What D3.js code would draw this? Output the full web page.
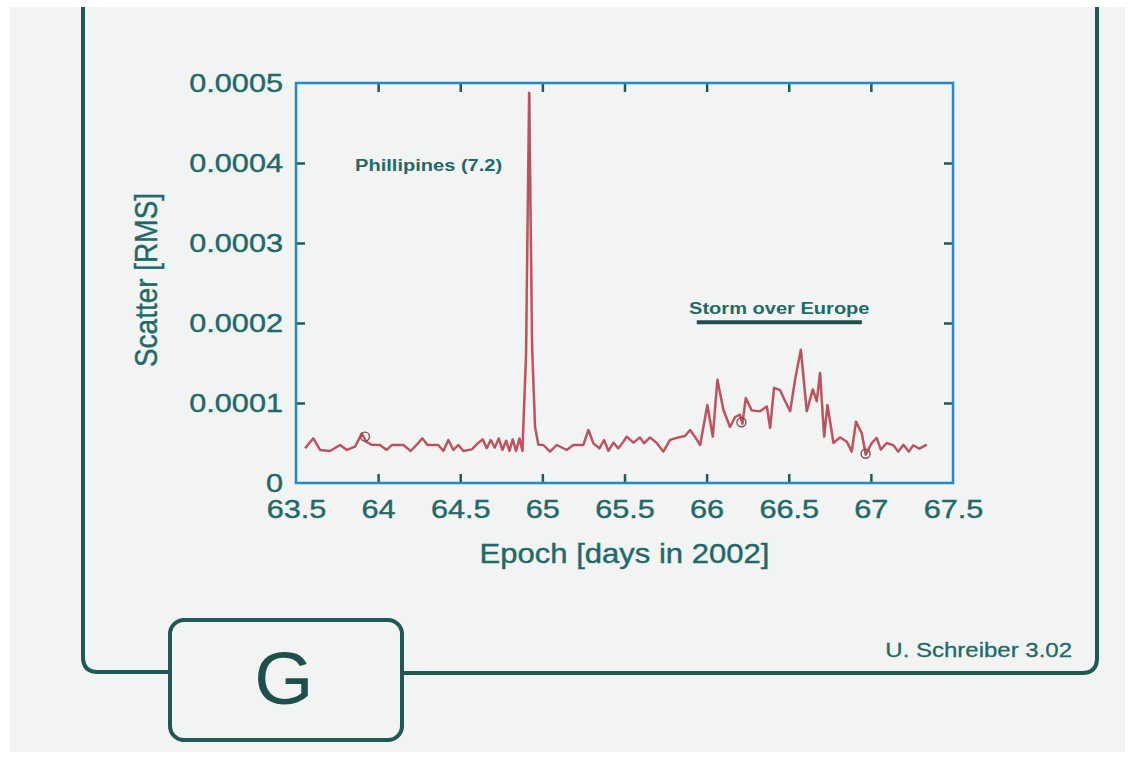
<!DOCTYPE html>
<html>
<head>
<meta charset="utf-8">
<script src="https://cdn.jsdelivr.net/npm/d3@7"></script>
<style>
  body { margin: 0; background: #ffffff; }
  text { font-family: 'Liberation Sans', Arial, sans-serif; }
</style>
</head>
<body>
<div id="chart"></div>
<script>
// epoch (days in 2002) and RMS scatter
const days = [
  63.555, 63.605, 63.646, 63.707, 63.768, 63.809, 63.859, 63.9, 63.926, 63.96,
  64.011, 64.052, 64.083, 64.153, 64.198, 64.235, 64.269, 64.3, 64.366, 64.397,
  64.427, 64.458, 64.488, 64.519, 64.57, 64.606, 64.636, 64.661, 64.685, 64.71,
  64.734, 64.756, 64.779, 64.799, 64.819, 64.839, 64.86, 64.878, 64.9, 64.919,
  64.937, 64.955, 64.975, 65.006, 65.046, 65.087, 65.148, 65.188, 65.249, 65.28,
  65.31, 65.347, 65.375, 65.402, 65.432, 65.462, 65.493, 65.513, 65.554, 65.594,
  65.619, 65.655, 65.696, 65.736, 65.777, 65.828, 65.868, 65.899, 65.931, 65.96,
  66.004, 66.037, 66.065, 66.102, 66.142, 66.173, 66.203, 66.217, 66.238, 66.274,
  66.325, 66.366, 66.386, 66.41, 66.447, 66.483, 66.508, 66.538, 66.573, 66.609,
  66.646, 66.67, 66.69, 66.715, 66.735, 66.772, 66.812, 66.853, 66.883, 66.909,
  66.944, 66.968, 67.005, 67.035, 67.06, 67.096, 67.137, 67.167, 67.198, 67.23,
  67.258, 67.295, 67.34
];

const scatter = [
  0.0000433, 0.0000558, 0.0000413, 0.0000400, 0.0000475, 0.0000413, 0.0000454, 0.0000620, 0.0000517, 0.0000479,
  0.0000475, 0.0000413, 0.0000475, 0.0000475, 0.0000400, 0.0000479, 0.0000558, 0.0000475, 0.0000475, 0.0000400,
  0.0000538, 0.0000413, 0.0000475, 0.0000400, 0.0000421, 0.0000496, 0.0000546, 0.0000433, 0.0000538, 0.0000442,
  0.0000558, 0.0000413, 0.0000529, 0.0000400, 0.0000546, 0.0000400, 0.0000558, 0.0000400, 0.0001600, 0.0004880,
  0.0001700, 0.0000700, 0.0000480, 0.0000475, 0.0000392, 0.0000475, 0.0000413, 0.0000475, 0.0000475, 0.0000663,
  0.0000496, 0.0000433, 0.0000538, 0.0000400, 0.0000504, 0.0000433, 0.0000517, 0.0000579, 0.0000504, 0.0000570,
  0.0000496, 0.0000570, 0.0000500, 0.0000392, 0.0000538, 0.0000570, 0.0000588, 0.0000663, 0.0000570, 0.0000475,
  0.0000975, 0.0000579, 0.0001290, 0.0000913, 0.0000700, 0.0000825, 0.0000854, 0.0000740, 0.0001062, 0.0000908,
  0.0000896, 0.0000958, 0.0000688, 0.0001190, 0.0001160, 0.0001000, 0.0000896, 0.0001290, 0.0001667, 0.0000896,
  0.0001170, 0.0001021, 0.0001375, 0.0000579, 0.0000975, 0.0000500, 0.0000571, 0.0000517, 0.0000392, 0.0000767,
  0.0000621, 0.0000354, 0.0000500, 0.0000563, 0.0000417, 0.0000500, 0.0000471, 0.0000392, 0.0000479, 0.0000392,
  0.0000471, 0.0000429, 0.0000479
];

// little circles drawn over a few samples
const markerDays = [63.92, 66.212, 66.968];
const markerValues = [0.000058, 0.000076, 0.0000365];

const xTicks = [63.5, 64, 64.5, 65, 65.5, 66, 66.5, 67, 67.5];
const yTicks = [0, 0.0001, 0.0002, 0.0003, 0.0004, 0.0005];

const xLabel = 'Epoch [days in 2002]';
const yLabel = 'Scatter [RMS]';
const quakeNote = { text: 'Phillipines (7.2)', day: 63.86, value: 0.00039 };
const stormNote = { text: 'Storm over Europe', from: 65.94, to: 66.945, value: 0.000201 };
const credit = 'U. Schreiber 3.02';
const panel = 'G';

const W = 1133, H = 759;
const margin = { top: 83, right: 180, bottom: 276, left: 296 };
const plotW = W - margin.left - margin.right;
const plotH = H - margin.top - margin.bottom;

const textCol = '#1f6a67';
const tickCol = '#1d5d59';
const frameCol = '#2389c8';
const boxCol = '#1f5855';
const lineCol = '#cf4f5d';
const stretch = 1.18;

// widen text horizontally around its own anchor (the scan is stretched)
function widen(sel, k) {
  sel.attr('transform', function() {
    const x = +this.getAttribute('x') || 0;
    const y = +this.getAttribute('y') || 0;
    return `translate(${x},${y}) scale(${k},1) translate(${-x},${-y})`;
  });
}

const svg = d3.select('#chart').append('svg')
  .attr('width', W)
  .attr('height', H);

svg.append('rect')
  .attr('x', 10).attr('y', 7)
  .attr('width', 1115).attr('height', 745)
  .attr('fill', '#f2f4f4');

// outer card frame with the panel tab
svg.append('path')
  .attr('d', 'M83,7 V657 Q83,672 98,672 H170 M402,673 H1082 Q1097,673 1097,658 V7')
  .attr('fill', 'none')
  .attr('stroke', boxCol)
  .attr('stroke-width', 4);

svg.append('rect')
  .attr('x', 170).attr('y', 620)
  .attr('width', 232).attr('height', 120)
  .attr('rx', 14)
  .attr('fill', '#f2f4f4')
  .attr('stroke', boxCol)
  .attr('stroke-width', 4);

svg.append('text')
  .attr('x', 284).attr('y', 704)
  .attr('text-anchor', 'middle')
  .attr('font-size', 74)
  .attr('fill', '#1e4f4d')
  .text(panel)
  .call(widen, 1.03);

svg.append('text')
  .attr('x', 1072).attr('y', 657)
  .attr('text-anchor', 'end')
  .attr('font-size', 20)
  .attr('fill', textCol)
  .attr('stroke', textCol)
  .attr('stroke-width', 0.3)
  .text(credit)
  .call(widen, 1.2);

const xScale = d3.scaleLinear()
  .domain([63.5, 67.5])
  .range([0, plotW]);

const yScale = d3.scaleLinear()
  .domain([0, 0.0005])
  .range([plotH, 0]);

const chart = svg.append('g')
  .attr('transform', `translate(${margin.left},${margin.top})`);

const inner = v => v !== xScale.domain()[0] && v !== xScale.domain()[1];
const innerY = v => v !== yScale.domain()[0] && v !== yScale.domain()[1];

// bottom axis with labels
const xAxisG = chart.append('g')
  .attr('transform', `translate(0,${plotH})`)
  .call(d3.axisBottom(xScale)
    .tickValues(xTicks)
    .tickFormat(d => String(d))
    .tickSizeInner(-9)
    .tickSizeOuter(0)
    .tickPadding(17));

xAxisG.selectAll('.tick line').filter(d => !inner(d)).remove();

// left axis with labels
const yAxisG = chart.append('g')
  .call(d3.axisLeft(yScale)
    .tickValues(yTicks)
    .tickFormat(d => d === 0 ? '0' : d.toFixed(4))
    .tickSizeInner(-9)
    .tickSizeOuter(0)
    .tickPadding(13));

yAxisG.selectAll('.tick line').filter(d => !innerY(d)).remove();

// mirrored ticks on top and right
chart.append('g')
  .call(d3.axisTop(xScale)
    .tickValues(xTicks.filter(inner))
    .tickFormat('')
    .tickSizeInner(-9)
    .tickSizeOuter(0));

chart.append('g')
  .attr('transform', `translate(${plotW},0)`)
  .call(d3.axisRight(yScale)
    .tickValues(yTicks.filter(innerY))
    .tickFormat('')
    .tickSizeInner(-9)
    .tickSizeOuter(0));

chart.selectAll('.domain').remove();
chart.selectAll('.tick line')
  .attr('stroke', tickCol)
  .attr('stroke-width', 2.5);
chart.selectAll('.tick text')
  .attr('font-family', "'Liberation Sans', Arial, sans-serif")
  .attr('font-size', 26)
  .attr('fill', textCol)
  .attr('stroke', textCol)
  .attr('stroke-width', 0.4)
  .call(widen, stretch);

chart.append('rect')
  .attr('width', plotW)
  .attr('height', plotH)
  .attr('fill', 'none')
  .attr('stroke', frameCol)
  .attr('stroke-width', 2.5);

const points = days.map((d, i) => ({ day: d, value: scatter[i] }));

const line = d3.line()
  .x(d => xScale(d.day))
  .y(d => yScale(d.value));

chart.append('path')
  .attr('d', line(points))
  .attr('fill', 'none')
  .attr('stroke', lineCol)
  .attr('stroke-width', 2.4)
  .attr('stroke-linejoin', 'round');

chart.append('path')
  .attr('d', line(points))
  .attr('transform', 'translate(1,0)')
  .attr('fill', 'none')
  .attr('stroke', '#2f6b68')
  .attr('stroke-opacity', 0.3)
  .attr('stroke-width', 1)
  .attr('stroke-linejoin', 'round');

chart.append('g')
  .selectAll('circle')
  .data(markerDays)
  .join('circle')
  .attr('cx', d => xScale(d))
  .attr('cy', (d, i) => yScale(markerValues[i]))
  .attr('r', 4.5)
  .attr('fill', 'none')
  .attr('stroke', '#8a4a50')
  .attr('stroke-width', 1.4);

// annotations
chart.append('text')
  .attr('x', xScale(quakeNote.day))
  .attr('y', yScale(quakeNote.value))
  .attr('font-size', 17)
  .attr('font-weight', 600)
  .attr('fill', textCol)
  .text(quakeNote.text)
  .call(widen, 1.18);

chart.append('text')
  .attr('x', (xScale(stormNote.from) + xScale(stormNote.to)) / 2)
  .attr('y', yScale(stormNote.value) - 8)
  .attr('text-anchor', 'middle')
  .attr('font-size', 17)
  .attr('font-weight', 600)
  .attr('fill', textCol)
  .text(stormNote.text)
  .call(widen, 1.18);

chart.append('line')
  .attr('x1', xScale(stormNote.from))
  .attr('x2', xScale(stormNote.to))
  .attr('y1', yScale(stormNote.value))
  .attr('y2', yScale(stormNote.value))
  .attr('stroke', '#1e4f4d')
  .attr('stroke-width', 4);

// axis titles
chart.append('text')
  .attr('x', plotW / 2)
  .attr('y', plotH + 80)
  .attr('text-anchor', 'middle')
  .attr('font-size', 27)
  .attr('fill', textCol)
  .attr('stroke', textCol)
  .attr('stroke-width', 0.4)
  .text(xLabel)
  .call(widen, 1.15);

chart.append('text')
  .attr('transform', `translate(${-148 + 9},${plotH / 2 - 3}) scale(1.15,1) rotate(-90)`)
  .attr('text-anchor', 'middle')
  .attr('font-size', 28)
  .attr('fill', textCol)
  .attr('stroke', textCol)
  .attr('stroke-width', 0.4)
  .text(yLabel);
</script>
</body>
</html>
